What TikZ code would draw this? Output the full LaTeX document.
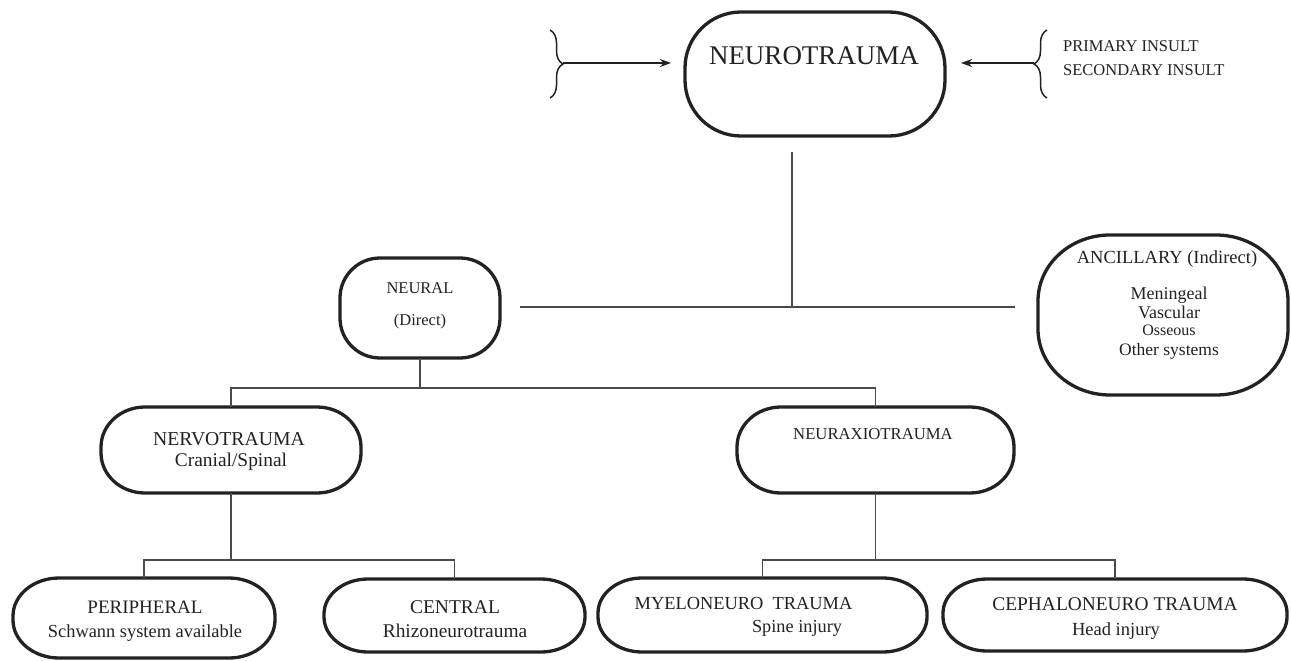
\documentclass[tikz,border=0pt]{standalone}
\usepackage{fontspec}
\setmainfont{Liberation Serif}
\usetikzlibrary{decorations.pathreplacing,arrows.meta}
\definecolor{ink}{HTML}{222222}
\definecolor{wirec}{HTML}{4A4A4A}
\newcommand\setfs[1]{\fontsize{#1}{#1}\selectfont}
% outline with elliptical corners around a named node: node, rx, ry
\newcommand\ovaloutline[3]{%
  \draw[boxline] ([xshift=#2]#1.north west) -- ([xshift=-#2]#1.north east)
    arc[start angle=90,end angle=0,x radius=#2,y radius=#3]
    -- ([yshift=#3]#1.south east)
    arc[start angle=0,end angle=-90,x radius=#2,y radius=#3]
    -- ([xshift=#2]#1.south west)
    arc[start angle=-90,end angle=-180,x radius=#2,y radius=#3]
    -- ([yshift=-#3]#1.north west)
    arc[start angle=180,end angle=90,x radius=#2,y radius=#3] -- cycle;}
\begin{document}
\begin{tikzpicture}[x=1pt,y=-1pt,
  box/.style={draw=none, rectangle, inner sep=0pt, outer sep=0pt},
  boxline/.style={draw=ink, line width=3.3pt, line join=round},
  wire/.style={draw=wirec, line width=1.7pt},
  lbl/.style={text=ink, inner sep=0pt, anchor=base},
  bracestyle/.style={draw=ink, line width=1.5pt, decorate, decoration={brace, amplitude=13pt}},
  arr/.style={draw=ink, line width=1.5pt, -{Stealth[length=11pt,width=8pt]}}
]
\useasboundingbox (0,0) rectangle (1291,661);
\fill[white] (0,0) rectangle (1291,661);

% ---------- boxes ----------
\node[box, minimum width=260pt, minimum height=124pt] (neuro) at (815,74) {};
\node[box, minimum width=160pt, minimum height=100pt] (neural) at (420,308) {};
\node[box, minimum width=250pt, minimum height=160pt] (ancil) at (1163,315) {};
\node[box, minimum width=260pt, minimum height=86pt] (nervo) at (231,450) {};
\node[box, minimum width=277pt, minimum height=86pt] (neurax) at (875.5,450) {};
\node[box, minimum width=262pt, minimum height=80pt] (periph) at (144,618) {};
\node[box, minimum width=261pt, minimum height=73pt] (central) at (454.5,615.5) {};
\node[box, minimum width=329pt, minimum height=74pt] (myelo) at (762.5,615) {};
\node[box, minimum width=344pt, minimum height=72pt] (cephalo) at (1115,615) {};

\ovaloutline{neuro}{56pt}{56pt}
\ovaloutline{neural}{40pt}{40pt}
\ovaloutline{ancil}{72pt}{66pt}
\ovaloutline{nervo}{44pt}{40pt}
\ovaloutline{neurax}{44pt}{40pt}
\ovaloutline{periph}{46pt}{38pt}
\ovaloutline{central}{44pt}{35pt}
\ovaloutline{myelo}{44pt}{35pt}
\ovaloutline{cephalo}{44pt}{34pt}

% ---------- labels ----------
\node[lbl, font=\setfs{27}] (tneuro) at (814,65) {NEUROTRAUMA};
\node[lbl, anchor=base west, font=\setfs{16.5}] (tprim) at (1063,52) {PRIMARY INSULT};
\node[lbl, anchor=base west, font=\setfs{16.5}] (tsec) at (1063,76) {SECONDARY INSULT};

\node[lbl, font=\setfs{16.5}] (tneural) at (420,293) {NEURAL};
\node[lbl, font=\setfs{16.5}] (tdirect) at (420,325) {(Direct)};

\node[lbl, font=\setfs{18.5}] (tancil) at (1167,263) {ANCILLARY (Indirect)};
\node[lbl, font=\setfs{18}] (tmen) at (1169,299) {Meningeal};
\node[lbl, font=\setfs{18}] (tvas) at (1169,318) {Vascular};
\node[lbl, font=\setfs{16}] (toss) at (1169,335) {Osseous};
\node[lbl, font=\setfs{17.5}] (toth) at (1169,355) {Other systems};

\node[lbl, font=\setfs{19.7}] (tnervo) at (229,445) {NERVOTRAUMA};
\node[lbl, font=\setfs{19.4}] (tcran) at (231,466) {Cranial/Spinal};

\node[lbl, font=\setfs{16.7}] (tneurax) at (873,439) {NEURAXIOTRAUMA};

\node[lbl, font=\setfs{19}] (tperiph) at (145,613) {PERIPHERAL};
\node[lbl, font=\setfs{18.4}] (tschw) at (145,637) {Schwann system available};

\node[lbl, font=\setfs{19.5}] (tcentral) at (455,613) {CENTRAL};
\node[lbl, font=\setfs{19.4}] (trhizo) at (455,637) {Rhizoneurotrauma};

\node[lbl, font=\setfs{18.4}] (tmyelo) at (743.5,609) {MYELONEURO\ \ TRAUMA};
\node[lbl, font=\setfs{18.3}] (tspine) at (797,632) {Spine injury};

\node[lbl, font=\setfs{19.4}] (tcephalo) at (1115,610) {CEPHALONEURO TRAUMA};
\node[lbl, font=\setfs{18.5}] (thead) at (1116,635) {Head injury};

% ---------- braces and arrows ----------
\coordinate (lb1) at (550,30);
\coordinate (lb2) at (550,98);
\coordinate (lcusp) at (563,63);
\coordinate (ltip) at (671,63);
\coordinate (rb1) at (1047,98);
\coordinate (rb2) at (1047,30);
\coordinate (rcusp) at (1034,63);
\coordinate (rtip) at (961,63);
\draw[bracestyle] (lb1) -- (lb2);
\draw[bracestyle] (rb1) -- (rb2);
\draw[arr] (lcusp) -- (ltip);
\draw[arr] (rcusp) -- (rtip);

% ---------- connectors ----------
\coordinate (vtop) at (792,152);
\coordinate (vjoin) at (792,307);
\coordinate (hleft) at (520,307);
\coordinate (hright) at (1015,307);
\draw[wire] (vtop) -- (vjoin);
\draw[wire] (hleft) -- (hright);

\coordinate (j1) at (420,388);
\draw[wire] (neural.south) -- (j1);
\draw[wire] (nervo.north) |- (j1) -| (neurax.north);

\coordinate (j2) at (231,560);
\draw[wire] (nervo.south) -- (j2);
\draw[wire] (periph.north) |- (j2) -| (central.north);

\coordinate (j3) at (875.5,560);
\draw[wire] (neurax.south) -- (j3);
\draw[wire] (myelo.north) |- (j3) -| (cephalo.north);
\end{tikzpicture}
\end{document}
